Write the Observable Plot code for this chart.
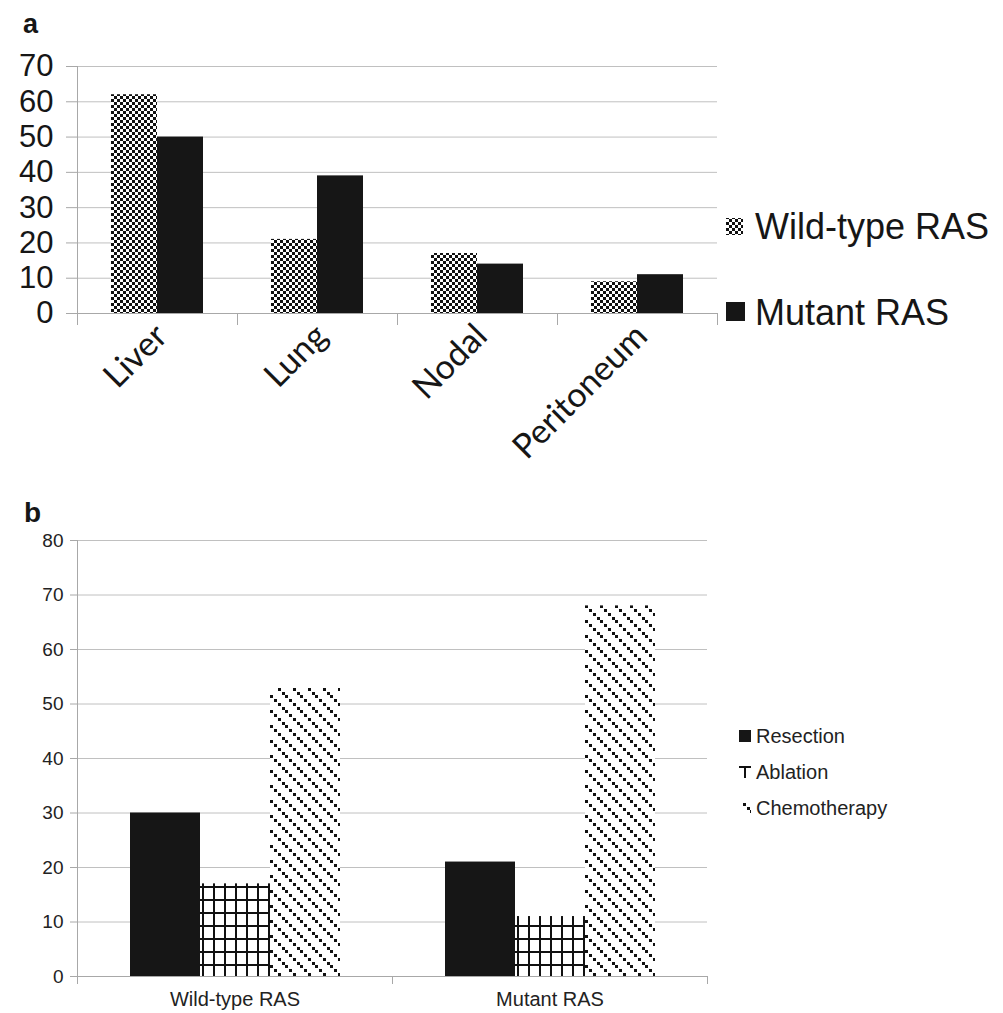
<!DOCTYPE html>
<html><head><meta charset="utf-8">
<script src="https://cdn.jsdelivr.net/npm/d3@7"></script>
<script src="https://cdn.jsdelivr.net/npm/@observablehq/plot@0.6"></script>
<style>
body{margin:0;background:#fff;}
#wrap{position:relative;width:1003px;height:1013px;overflow:hidden;}
#wrap > svg{position:absolute;left:0;}
</style></head><body>
<svg width="0" height="0" style="position:absolute;left:0;top:0">
<defs>
<pattern id="checker" patternUnits="userSpaceOnUse" width="6" height="6">
<rect width="6" height="6" fill="#fff"/>
<rect width="3" height="3" fill="#111"/>
<rect x="3" y="3" width="3" height="3" fill="#111"/>
</pattern>
<pattern id="grid" patternUnits="userSpaceOnUse" width="11" height="13">
<rect width="11" height="13" fill="#fff"/>
<rect x="4" width="2" height="13" fill="#111"/>
<rect y="0" width="11" height="2" fill="#111"/>
</pattern>
<pattern id="gridSwatch" patternUnits="userSpaceOnUse" width="12" height="12" x="739" y="766">
<rect width="12" height="12" fill="#fff"/>
<rect x="5" width="2" height="12" fill="#111"/>
<rect y="0" width="12" height="2" fill="#111"/>
</pattern>
<pattern id="diag" patternUnits="userSpaceOnUse" width="15" height="15">
<rect width="15" height="15" fill="#fff"/>
<rect x="0" y="0" width="3" height="3" fill="#111"/>
<rect x="4" y="4" width="3" height="3" fill="#111"/>
<rect x="8" y="8" width="3" height="3" fill="#111"/>
<rect x="12" y="12" width="3" height="3" fill="#111"/>
</pattern>
</defs></svg>
<div id="wrap"></div>
<script>
// ---- Panel a data ----
const sitesA = ["Liver", "Lung", "Nodal", "Peritoneum"];
const seriesA = ["Wild-type RAS", "Mutant RAS"];
const wildTypeA = [62, 21, 17, 9];
const mutantA = [50, 39, 14, 11];
const yTicksA = [0, 10, 20, 30, 40, 50, 60, 70];

// ---- Panel b data ----
const groupsB = ["Wild-type RAS", "Mutant RAS"];
const treatmentsB = ["Resection", "Ablation", "Chemotherapy"];
const resectionB = [30, 21];
const ablationB = [17, 11];
const chemotherapyB = [53, 68];
const yTicksB = [0, 10, 20, 30, 40, 50, 60, 70, 80];

const sans = "'Liberation Sans', Arial, Helvetica, sans-serif";
const gridC = "#c0c0c0", axisC = "#a8a8a8", ink = "#161616";

const rowsA = sitesA.flatMap((s, i) => [
  {site: s, series: seriesA[0], value: wildTypeA[i]},
  {site: s, series: seriesA[1], value: mutantA[i]}
]);
const valsB = [resectionB, ablationB, chemotherapyB];
const rowsB = groupsB.flatMap((g, i) => treatmentsB.map((t, j) => ({group: g, treatment: t, value: valsB[j][i]})));

const W = 1003;
// Panel a
const mA = {top: 66, bottom: 157, left: 77, right: 286}, hA = 470;
const bwA = (W - mA.left - mA.right) / sitesA.length;
const innerA = hA - mA.top - mA.bottom;
const plotA = Plot.plot({
  width: W, height: hA,
  marginTop: mA.top, marginBottom: mA.bottom, marginLeft: mA.left, marginRight: mA.right,
  style: {fontFamily: sans, background: "transparent", color: ink},
  fx: {domain: sitesA, padding: 0, axis: null, label: null},
  x: {domain: seriesA, paddingInner: 0, paddingOuter: 0.739, axis: null},
  y: {domain: [0, 70], axis: null},
  color: {type: "ordinal", domain: seriesA, range: ["url(#checker)", ink]},
  marks: [
    Plot.gridY(yTicksA, {stroke: gridC, strokeOpacity: 1}),
    Plot.axisY(yTicksA, {tickSize: 11, tickPadding: 13, fontSize: 31, stroke: axisC, fill: ink, label: null}),
    Plot.barY(rowsA, {fx: "site", x: "series", y: "value", fill: "series"}),
    Plot.ruleY([0], {stroke: axisC}),
    Plot.ruleX([sitesA[0]], {fx: d => d, x: null, dx: -bwA / 2, stroke: axisC}),
    Plot.frame({anchor: "left", insetTop: innerA, insetBottom: -11, stroke: axisC}),
    Plot.frame({anchor: "right", insetTop: innerA, insetBottom: -11, stroke: axisC}),
    Plot.axisFx({anchor: "bottom", tickSize: 0, tickPadding: 17, dx: 4, tickRotate: -45, fontSize: 34, fontFamily: "Lato, 'Open Sans', sans-serif", fill: ink, label: null})
  ]
});
plotA.style.top = "0px";

// Panel b
const topB = 470;
const mB = {top: 70, bottom: 37, left: 77, right: 296}, hB = 1013 - topB;
const bwB = (W - mB.left - mB.right) / groupsB.length;
const innerB = hB - mB.top - mB.bottom;
const plotB = Plot.plot({
  width: W, height: hB,
  marginTop: mB.top, marginBottom: mB.bottom, marginLeft: mB.left, marginRight: mB.right,
  style: {fontFamily: sans, background: "transparent", color: ink},
  fx: {domain: groupsB, padding: 0, axis: null, label: null},
  x: {domain: treatmentsB, paddingInner: 0, paddingOuter: 0.75, axis: null},
  y: {domain: [0, 80], axis: null},
  color: {type: "ordinal", domain: treatmentsB, range: [ink, "url(#grid)", "url(#diag)"]},
  marks: [
    Plot.gridY(yTicksB, {stroke: gridC, strokeOpacity: 1}),
    Plot.axisY(yTicksB, {tickSize: 7, tickPadding: 7, fontSize: 19, stroke: axisC, fill: "#222", label: null}),
    Plot.barY(rowsB, {fx: "group", x: "treatment", y: "value", fill: "treatment"}),
    Plot.ruleY([0], {stroke: axisC}),
    Plot.ruleX([groupsB[0]], {fx: d => d, x: null, dx: -bwB / 2, stroke: axisC}),
    Plot.frame({anchor: "left", insetTop: innerB, insetBottom: -7, stroke: axisC}),
    Plot.frame({anchor: "right", insetTop: innerB, insetBottom: -7, stroke: axisC}),
    Plot.axisFx({anchor: "bottom", tickSize: 0, tickPadding: 15, fontSize: 20, fill: "#222", label: null})
  ]
});
plotB.style.top = topB + "px";

const wrap = document.getElementById("wrap");
wrap.appendChild(plotA);
wrap.appendChild(plotB);

// Overlay: panel labels and legends
const ov = d3.select(wrap).append("svg")
  .attr("width", W).attr("height", 1013)
  .style("position", "absolute").style("top", "0px").style("left", "0px")
  .style("font-family", sans);
ov.append("text").attr("x", 23).attr("y", 33).attr("font-size", 27).attr("font-weight", "bold").attr("fill", ink).text("a");
ov.append("text").attr("x", 24).attr("y", 522).attr("font-size", 28).attr("font-weight", "bold").attr("fill", ink).text("b");

const legA = [
  {label: seriesA[0], fill: "url(#checker)", x: 726, y: 218, s: 17, ty: 239},
  {label: seriesA[1], fill: ink, x: 726, y: 302, s: 19, ty: 325}
];
legA.forEach(d => {
  ov.append("rect").attr("x", d.x).attr("y", d.y).attr("width", d.s).attr("height", d.s).attr("fill", d.fill);
  ov.append("text").attr("x", 755).attr("y", d.ty).attr("font-size", 36).attr("fill", ink).text(d.label);
});
const fillsB = [ink, "url(#gridSwatch)", "url(#diag)"];
const legBy = [743, 779, 815];
treatmentsB.forEach((t, i) => {
  ov.append("rect").attr("x", 739).attr("y", legBy[i] - 13).attr("width", 12).attr("height", 12).attr("fill", fillsB[i]);
  ov.append("text").attr("x", 756).attr("y", legBy[i]).attr("font-size", 20).attr("fill", "#222").text(t);
});
</script>
</body></html>
